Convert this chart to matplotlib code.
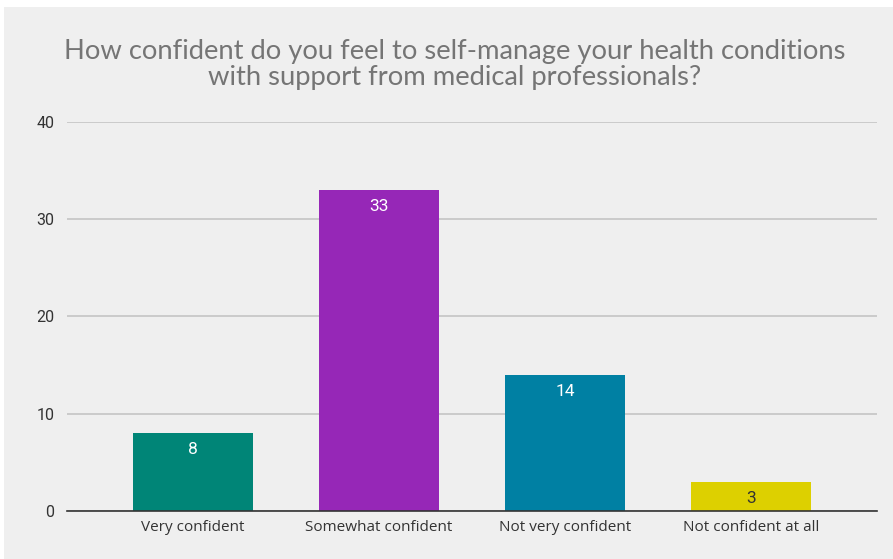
import matplotlib.pyplot as plt
from matplotlib.patches import Rectangle

# --- survey responses ---
categories = ['Very confident', 'Somewhat confident', 'Not very confident', 'Not confident at all']
counts = [8, 33, 14, 3]
bar_colors = ['#008577', '#9627b7', '#0080a3', '#ddd000']
label_colors = ['white', 'white', 'white', '#333333']
y_ticks = [0, 10, 20, 30, 40]

title = 'How confident do you feel to self-manage your health conditions\nwith support from medical professionals?'

plt.rcParams['font.family'] = ['Roboto', 'DejaVu Sans']

fig = plt.figure(figsize=(8.93, 5.59), dpi=100)
fig.patch.set_facecolor('white')
# grey panel behind the chart (thin white margin on the top and left)
fig.patches.append(Rectangle((4 / 893, 0), 1, 1 - 7 / 559, transform=fig.transFigure,
                             facecolor='#efefef', edgecolor='none', zorder=-10))

ax = fig.add_axes([67 / 893, 1 - 510.7 / 559, 810 / 893, (510.7 - 122) / 559])
ax.set_facecolor('none')

x = range(len(categories))
bars = ax.bar(x, counts, width=0.645, color=bar_colors, zorder=3)

for rect, val, lc in zip(bars, counts, label_colors):
    ax.annotate(str(val), (rect.get_x() + rect.get_width() / 2, val),
                xytext=(0, -12), textcoords='offset points',
                ha='center', va='center', fontsize=12.5, color=lc, zorder=4)

ax.set_xlim(-0.677, 3.677)
ax.set_ylim(0, 40)
ax.set_yticks(y_ticks)
ax.set_xticks(list(x))
ax.set_xticklabels(categories, family=['Open Sans', 'DejaVu Sans'], fontsize=11)
ax.tick_params(axis='both', length=0, colors='#333333')
ax.tick_params(axis='y', labelsize=11.5, pad=9)
ax.tick_params(axis='x', pad=7)

ax.yaxis.grid(True, color='#c4c4c4', linewidth=1.2, zorder=0)
ax.set_axisbelow(True)
for side in ['top', 'right', 'left']:
    ax.spines[side].set_visible(False)
ax.spines['bottom'].set_color('#333333')
ax.spines['bottom'].set_linewidth(1.2)
ax.spines['bottom'].set_zorder(5)

fig.text(455 / 893, 1 - 65 / 559, title, ha='center', va='center', fontsize=19.7,
         color='#757575', family=['Lato', 'DejaVu Sans'], linespacing=1.05)

fig.savefig('out.png', dpi=100)
